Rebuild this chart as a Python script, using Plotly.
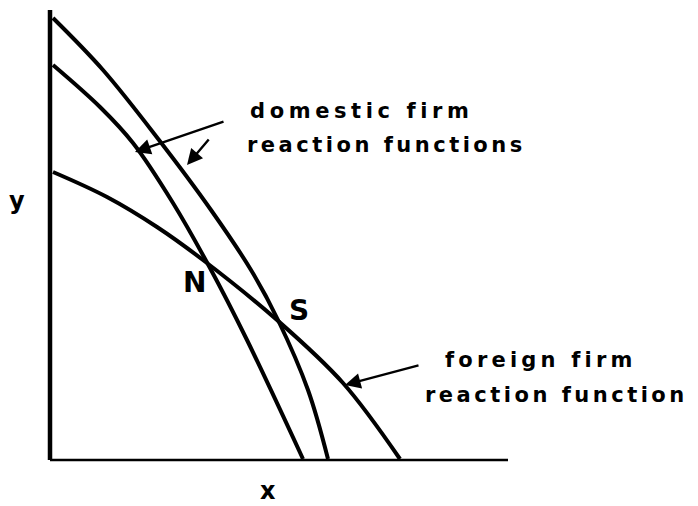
import plotly.graph_objects as go

# Data (schematic units: 1 unit = 10 px of the reference)
domestic_outer_x = [0.3, 5.3, 10.9, 16.1, 20.1, 22.8, 25.8, 27.8]
domestic_outer_y = [44.2, 39.0, 32.0, 25.0, 19.0, 14.0, 7.0, 0.1]

domestic_inner_x = [0.3, 5.0, 8.3, 12.3, 16.0, 19.7, 25.3]
domestic_inner_y = [39.5, 35.3, 31.7, 25.7, 19.2, 12.0, 0.1]

foreign_x = [0.3, 5.7, 10.7, 15.3, 22.7, 29.3, 35.0]
foreign_y = [28.8, 26.3, 23.3, 20.0, 14.0, 7.7, 0.1]

axis_x_end = 45.8
axis_y_end = 45.0

BLACK = "#000000"
FONT = "DejaVu Sans"

fig = go.Figure()

for xs, ys in [(domestic_outer_x, domestic_outer_y),
               (domestic_inner_x, domestic_inner_y),
               (foreign_x, foreign_y)]:
    fig.add_trace(go.Scatter(x=xs, y=ys, mode="lines",
                             line=dict(color=BLACK, width=4, shape="spline", smoothing=1.0),
                             hoverinfo="skip", showlegend=False))

# axes
fig.add_trace(go.Scatter(x=[0, 0], y=[0, axis_y_end], mode="lines",
                         line=dict(color=BLACK, width=4.5), hoverinfo="skip", showlegend=False))
fig.add_trace(go.Scatter(x=[0, axis_x_end], y=[0, 0], mode="lines",
                         line=dict(color=BLACK, width=2.6), hoverinfo="skip", showlegend=False))

def sp(t, ls):
    return f'<span style="letter-spacing:{ls}px">{t}</span>'

texts = [
    ("domestic firm", 19.8, 34.9, 4.6),
    ("reaction functions", 19.5, 31.5, 3.5),
    ("foreign firm", 39.3, 10.0, 4.2),
    ("reaction function", 37.3, 6.5, 3.5),
]
for t, x, y, ls in texts:
    fig.add_annotation(x=x, y=y, text=sp(t, ls), showarrow=False, xanchor="left", yanchor="middle",
                       font=dict(family=FONT, size=21, color=BLACK, weight="bold"))

for t, x, y, s in [("N", 14.4, 17.8, 28), ("S", 24.9, 15.0, 28),
                   ("y", -3.3, 25.9, 24), ("x", 21.8, -3.1, 24)]:
    fig.add_annotation(x=x, y=y, text=t, showarrow=False, xanchor="center", yanchor="middle",
                       font=dict(family=FONT, size=s, color=BLACK, weight="bold"))

# arrows: (tail x, tail y, tip x, tip y)
arrows = [(17.5, 33.9, 8.5, 30.8), (16.0, 32.2, 13.7, 29.5), (37.0, 9.5, 29.5, 7.5)]
for ax_, ay_, x_, y_ in arrows:
    fig.add_annotation(x=x_, y=y_, ax=ax_, ay=ay_, axref="x", ayref="y", xref="x", yref="y",
                       text="", showarrow=True, arrowhead=2, arrowsize=1.3, arrowwidth=2.4,
                       arrowcolor=BLACK, standoff=0, startstandoff=0)

fig.update_layout(width=698, height=506, margin=dict(l=0, r=0, t=0, b=0),
                  paper_bgcolor="white", plot_bgcolor="white", showlegend=False,
                  xaxis=dict(range=[-4.2, 65.6], visible=False, fixedrange=True),
                  yaxis=dict(range=[-5.4, 45.2], visible=False, fixedrange=True))

fig.write_html("out.html")
